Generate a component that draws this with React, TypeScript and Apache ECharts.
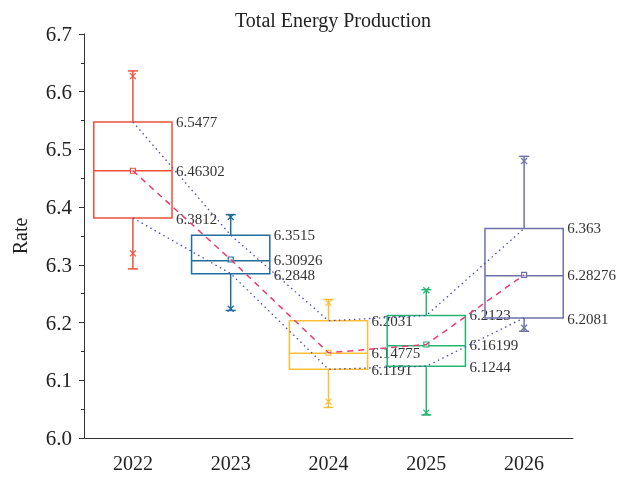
import { useEffect, useRef } from 'react';
import * as echarts from 'echarts';

const categories = ['2022', '2023', '2024', '2025', '2026'];
const whiskerLow = [6.293, 6.221, 6.053, 6.04, 6.185];
const q1 = [6.3812, 6.2848, 6.1191, 6.1244, 6.2081];
const median = [6.463, 6.307, 6.147, 6.16, 6.281];
const q3 = [6.5477, 6.3515, 6.2031, 6.2123, 6.363];
const whiskerHigh = [6.636, 6.387, 6.24, 6.257, 6.488];
const minMark = [6.32, 6.224, 6.063, 6.044, 6.191];
const maxMark = [6.627, 6.383, 6.234, 6.256, 6.48];
const mean = [6.46302, 6.30926, 6.14775, 6.16199, 6.28276];
const yTicks = [6.0, 6.7, 0.1];

const colors = ['#F0503A', '#1F6E9E', '#FCBF35', '#22B573', '#6E72A6'];
const FONT = "'Liberation Serif', 'DejaVu Serif', serif";

export default function App() {
  const ref = useRef<HTMLDivElement>(null);
  useEffect(() => {
    const chart = echarts.init(ref.current!, null, { renderer: 'svg' });
    const boxData = categories.map((_, i) => [
      i, whiskerLow[i], q1[i], median[i], q3[i], whiskerHigh[i], minMark[i], maxMark[i], mean[i],
    ]);
    const renderItem = (params: any, api: any) => {
      const i = api.value(0);
      const x = api.coord([i, 6.0])[0];
      const y = (k: number) => api.coord([i, api.value(k)])[1];
      const bw = api.size([1, 0])[0] * 0.8;
      const c = colors[params.dataIndex];
      const yWL = y(1), yQ1 = y(2), yMed = y(3), yQ3 = y(4), yWH = y(5), yMn = y(6), yMx = y(7), yMean = y(8);
      const ls = { stroke: c, lineWidth: 1.5 };
      const line = (x1: number, y1: number, x2: number, y2: number, w = 1.5) => ({
        type: 'line', shape: { x1, y1, x2, y2 }, style: { stroke: c, lineWidth: w },
      });
      const cross = (cy: number) => [
        line(x - 3, cy - 3, x + 3, cy + 3, 1.2),
        line(x - 3, cy + 3, x + 3, cy - 3, 1.2),
      ];
      const lx = x + bw / 2 + 4;
      const text = (ty: number, t: string) => ({
        type: 'text', x: lx, y: ty,
        style: { text: t, fill: '#333', font: `15px ${FONT}`, textVerticalAlign: 'middle', textAlign: 'left' },
      });
      const idx = params.dataIndex;
      return {
        type: 'group',
        children: [
          line(x, yWH, x, yQ3),
          line(x, yQ1, x, yWL),
          line(x - 5, yWH, x + 5, yWH),
          line(x - 5, yWL, x + 5, yWL),
          { type: 'rect', shape: { x: x - bw / 2, y: yQ3, width: bw, height: yQ1 - yQ3 }, style: { fill: 'none', ...ls } },
          line(x - bw / 2, yMed, x + bw / 2, yMed),
          ...cross(yMn),
          ...cross(yMx),
          { type: 'rect', shape: { x: x - 2.5, y: yMean - 2.5, width: 5, height: 5 }, style: { fill: 'rgba(255,255,255,0.6)', stroke: c, lineWidth: 1.2 } },
          text(yQ3, String(q3[idx])),
          text(yMean, String(mean[idx])),
          text(yQ1 + 1, String(q1[idx])),
        ],
      };
    };
    chart.setOption({
      animation: false,
      title: {
        text: 'Total Energy Production', left: 328, top: 5, textAlign: 'center',
        textStyle: { fontFamily: FONT, fontSize: 20, fontWeight: 'normal', color: '#222' },
      },
      grid: { left: 84, right: 45, top: 34, bottom: 39 },
      xAxis: {
        type: 'category', data: categories, boundaryGap: true,
        axisLine: { lineStyle: { color: '#333', width: 1 } },
        axisTick: { alignWithLabel: true, length: 6, lineStyle: { color: '#333' } },
        axisLabel: { fontFamily: FONT, fontSize: 20, color: '#222', margin: 15 },
      },
      yAxis: {
        type: 'value', min: yTicks[0], max: yTicks[1], interval: yTicks[2],
        name: 'Rate', nameLocation: 'middle', nameGap: 54,
        nameTextStyle: { fontFamily: FONT, fontSize: 20, color: '#222' },
        axisLine: { show: true, lineStyle: { color: '#333', width: 1 } },
        axisTick: { show: true, length: 5, lineStyle: { color: '#333' } },
        minorTick: { show: true, splitNumber: 2, length: 3, lineStyle: { color: '#333' } },
        splitLine: { show: false },
        axisLabel: { fontFamily: FONT, fontSize: 21, color: '#222', margin: 12, formatter: (v: number) => v.toFixed(1) },
      },
      series: [
        { type: 'custom', data: boxData, renderItem, encode: { x: 0, y: [1, 2, 3, 4, 5, 6, 7, 8] }, z: 2 },
        { type: 'line', data: q3, symbol: 'none', lineStyle: { type: [1.5, 3.5], color: '#4B4BB5', width: 1.3 }, z: 3 },
        { type: 'line', data: q1, symbol: 'none', lineStyle: { type: [1.5, 3.5], color: '#4B4BB5', width: 1.3 }, z: 3 },
        { type: 'line', data: mean, symbol: 'none', lineStyle: { type: [6, 5], color: '#EC3B77', width: 1.5 }, z: 3 },
      ],
    });
    return () => chart.dispose();
  }, []);
  return <div ref={ref} style={{ position: 'fixed', left: 0, top: 0, width: 618, height: 477 }} />;
}
